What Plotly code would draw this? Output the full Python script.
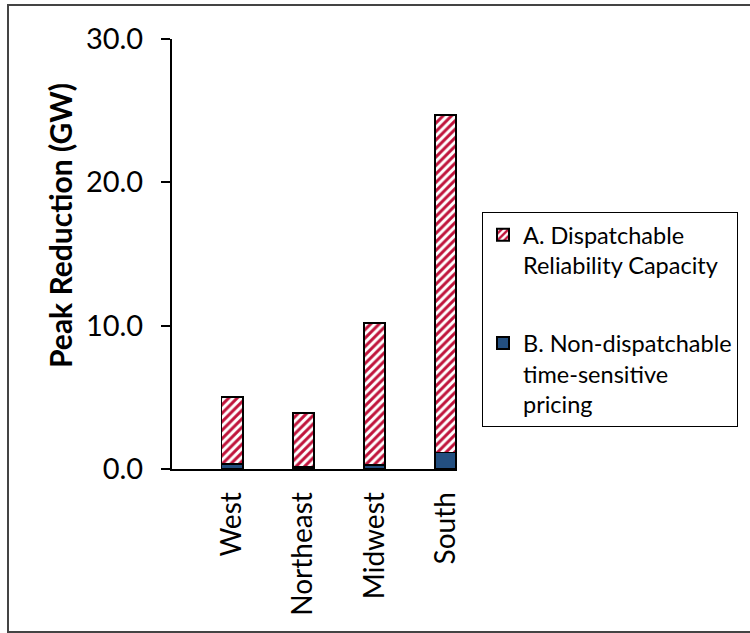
import plotly.graph_objects as go

regions = ["West", "Northeast", "Midwest", "South"]
non_dispatchable = [0.33, 0.15, 0.30, 1.15]
dispatchable = [4.70, 3.74, 9.88, 23.55]
y_ticks = [0, 10, 20, 30]
y_tick_labels = ["0.0", "10.0", "20.0", "30.0"]

FONT = "Lato"
RED = "#C0143C"
BLUE = "#234F80"

fig = go.Figure()
fig.add_trace(go.Bar(
    x=regions, y=non_dispatchable,
    name="B. Non-dispatchable<br>time-sensitive<br>pricing",
    legendgroup="b", legendrank=2,
    marker=dict(color=BLUE, line=dict(color="black", width=1.8)),
    width=0.3,
))
fig.add_trace(go.Bar(
    x=regions, y=dispatchable,
    name="A. Dispatchable<br>Reliability Capacity",
    legendgroup="a", legendrank=1,
    marker=dict(color="white", line=dict(color="black", width=1.8),
                pattern=dict(shape="/", fgcolor=RED, bgcolor="white",
                             size=6, solidity=0.5, fillmode="replace")),
    width=0.3,
))

# plot area in pixels: x 172..457, y 39..469
L, R, T, B = 172, 457, 39, 469
W, H = 750, 633
pw, ph = R - L, B - T

def px2paper_x(px):
    return (px - L) / pw

def px2paper_y(py):
    return (B - py) / ph

fig.update_layout(
    width=W, height=H,
    margin=dict(l=L, r=W - R, t=T, b=H - B, pad=0),
    barmode="stack",
    plot_bgcolor="white", paper_bgcolor="white",
    font=dict(family=FONT, color="black"),
    showlegend=True,
    legend=dict(
        xref="container", yref="container",
        x=482 / W, y=1 - 212 / H, xanchor="left", yanchor="top",
        bordercolor="black", borderwidth=1,
        font=dict(family=FONT, size=23.5, color="black"),
        traceorder="grouped", tracegroupgap=44,
        valign="top", itemsizing="constant",
    ),
    xaxis=dict(
        range=[-0.845, 3.16],
        showline=True, linecolor="black", linewidth=2,
        ticks="", tickangle=-90,
        tickfont=dict(family=FONT, size=28, color="black"),
        ticklabelstandoff=10,
        showgrid=False, zeroline=False,
    ),
    yaxis=dict(
        range=[0, 30],
        tickvals=y_ticks, ticktext=y_tick_labels,
        showline=True, linecolor="black", linewidth=2,
        ticks="outside", ticklen=9, tickwidth=1.5, tickcolor="black",
        tickfont=dict(family=FONT, size=29, color="black"),
        ticklabelstandoff=12,
        showgrid=False, zeroline=False,
    ),
    annotations=[dict(
        text="<b>Peak Reduction (GW)</b>", textangle=-90,
        xref="paper", yref="paper",
        x=px2paper_x(60), y=px2paper_y(226),
        xanchor="center", yanchor="middle", showarrow=False,
        font=dict(family=FONT, size=30, color="black"),
    )],
    shapes=[dict(
        type="rect", xref="paper", yref="paper",
        x0=px2paper_x(8), x1=px2paper_x(760),
        y0=px2paper_y(632), y1=px2paper_y(5),
        line=dict(color="#444444", width=2), layer="below",
    )],
)

fig.write_html("out.html", config={"displayModeBar": False},
               post_script="document.body.style.margin='0';")
